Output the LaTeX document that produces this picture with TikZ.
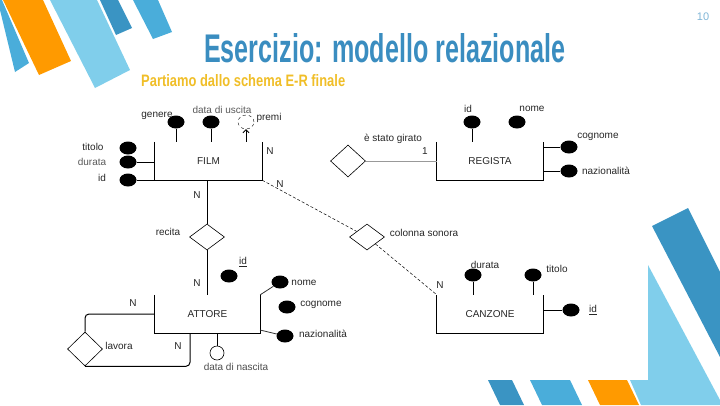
\documentclass[tikz,border=0pt]{standalone}
\usepackage{fontspec}
\setmainfont{Liberation Sans}
\usetikzlibrary{shapes.geometric,arrows.meta}
\definecolor{orng}{HTML}{FF9A00}
\definecolor{lblue}{HTML}{80CEEB}
\definecolor{mblue}{HTML}{4AADDA}
\definecolor{dblue}{HTML}{3A94C3}
\definecolor{ttl}{HTML}{3A8DC0}
\definecolor{subt}{HTML}{F0BE28}
\definecolor{pgn}{HTML}{7FB5D6}
\begin{document}
\begin{tikzpicture}[x=1pt,y=-1pt,
  ent/.style={minimum width=#1, minimum height=38pt, inner sep=0pt, font=\fontsize{10}{12}\selectfont, text=black!85},
  attr/.style={ellipse, fill=black, minimum width=17pt, minimum height=13pt, inner sep=0pt},
  rel/.style={diamond, draw, minimum width=35pt, minimum height=#1, inner sep=0pt, line width=0.6pt},
  lbl/.style={font=\fontsize{10}{12}\selectfont, inner sep=0pt, text=black!85},
  conn/.style={line width=1pt}]
\useasboundingbox (0,0) rectangle (720,405);
% decorations top-left
\fill[mblue] (0,10) -- (15,72) -- (29,63) -- (2,0) -- (0,0) -- cycle;
\fill[orng] (3,0) -- (39,75) -- (71,61) -- (43,0) -- cycle;
\fill[lblue] (50,0) -- (95,88) -- (130,70) -- (97,0) -- cycle;
\fill[dblue] (100,0) -- (116,35) -- (132,28) -- (118,0) -- cycle;
\fill[mblue] (133,0) -- (153,39) -- (172,32) -- (158,0) -- cycle;
% decorations bottom-right
\fill[dblue] (652,226) -- (688,208) -- (720,272) -- (720,357) -- cycle;
\fill[lblue] (648,265) -- (720,400) -- (720,405) -- (641,405) -- (630,380) -- (648,380) -- cycle;
\fill[orng] (588,380) -- (627,380) -- (639,405) -- (600,405) -- cycle;
\fill[mblue] (530,380) -- (570,380) -- (582,405) -- (542,405) -- cycle;
\fill[dblue] (488,380) -- (512,380) -- (524,405) -- (500,405) -- cycle;
% texts of the slide
\node[text=pgn, font=\fontsize{11}{13}\selectfont, inner sep=0pt] (pg) at (703,17) {10};
\node[anchor=base west, inner sep=0pt, text=ttl] (title) at (204,62.5)
  {\resizebox{361pt}{29pt}{\bfseries Esercizio: modello relazionale}};
\node[anchor=base west, inner sep=0pt, text=subt] (sub) at (141,86)
  {\resizebox{204pt}{12pt}{\bfseries Partiamo dallo schema E-R finale}};
% entities
\node[ent=107pt] (film) at (208.5,161) {FILM};
\node[ent=106pt] (regista) at (490,161) {REGISTA};
\node[ent=105pt] (attore) at (207.5,314) {ATTORE};
\node[ent=106pt] (canzone) at (490,314) {CANZONE};
\foreach \e in {film,regista,attore,canzone}
  \draw[conn] (\e.north west) -- (\e.south west) -- (\e.south east) -- (\e.north east);
% FILM attributes
\node[attr] (fgen) at (176,122) {};
\node[attr] (fdat) at (211,122) {};
\node[ellipse, draw, dashed, minimum width=16pt, minimum height=14pt, inner sep=0pt] (fpre) at (246,122) {};
\node[attr] (ftit) at (128,148) {};
\node[attr] (fdur) at (128,162) {};
\node[attr] (fid) at (128,180) {};
\draw[conn] (fgen) -- (fgen |- film.north);
\draw[conn] (fdat) -- (fdat |- film.north);
\draw[line width=0.8pt, -{Straight Barb[length=3pt]}] (fpre |- film.north) -- (fpre.south);
\draw[conn] (fdur) -- (fdur -| film.west);
\draw[conn] (fid) -- (fid -| film.west);
\node[lbl] (lgen) at (157,116) {genere};
\node[lbl, text=black!65] (ldat) at (222,110) {data di uscita};
\node[lbl] (lpre) at (269,118) {premi};
\node[lbl] (ltit) at (93,147) {titolo};
\node[lbl, text=black!65] (ldur) at (92,162) {durata};
\node[lbl] (lfid) at (102,178) {id};
\node[lbl] (n1) at (270,151) {N};
\node[lbl] (n2) at (280,184) {N};
\node[lbl] (n3) at (197,195) {N};
% è stato girato
\node[rel=32pt] (girato) at (348,161) {};
\draw[black!40, line width=0.8pt] (girato.east) -- (regista.west);
\node[lbl] (lgir) at (393,139) {è stato girato};
\node[lbl] (one) at (425,151) {1};
% REGISTA attributes
\node[attr] (rid) at (472,122) {};
\node[attr] (rnom) at (517,122) {};
\node[attr] (rcog) at (569,147) {};
\node[attr] (rnaz) at (569,171) {};
\draw[conn] (rid) -- (rid |- regista.north);
\draw[conn] (rcog) -- (rcog -| regista.east);
\draw[conn] (rnaz) -- (rnaz -| regista.east);
\node[lbl] (lrid) at (468,109) {id};
\node[lbl] (lrnom) at (532,109) {nome};
\node[lbl] (lrcog) at (598,137) {cognome};
\node[lbl] (lrnaz) at (606,171) {nazionalità};
% recita
\node[rel=26pt] (recita) at (207,237) {};
\draw[conn] (recita.north |- film.south) -- (recita.north);
\draw[conn] (recita.south) -- (recita.south |- attore.north);
\node[lbl] (lrec) at (168,232) {recita};
\node[lbl] (n4) at (197,283) {N};
% ATTORE attributes
\node[attr] (aid) at (229,276) {};
\node[attr] (anom) at (280,282) {};
\node[attr] (acog) at (287,307) {};
\node[attr] (anaz) at (285,336) {};
\node[circle, draw, line width=0.6pt, minimum size=14pt, inner sep=0pt] (adat) at (217,353) {};
\coordinate (anzc) at (260,330);
\coordinate (adtc) at (217,333);
\draw[line width=0.8pt, black!80] (attore.north east) -- (anom);
\draw[line width=0.8pt, black!80] (anzc) -- (anaz);
\draw[conn] (adtc) -- (adat.north);
\node[lbl] (laid) at (243,262) {\underline{id}};
\node[lbl] (lanom) at (304,283) {nome};
\node[lbl] (lacog) at (321,305) {cognome};
\node[lbl] (lanaz) at (323,334) {nazionalità};
\node[lbl, text=black!70] (ladat) at (236,367) {data di nascita};
% lavora
\node[rel=34pt] (lavora) at (85,349) {};
\coordinate (alav) at (190,333);
\draw[conn, rounded corners=4pt] (attore.west) -| (lavora.north);
\draw[conn, rounded corners=4pt] (lavora.south) -| (alav);
\node[lbl] (llav) at (119,346) {lavora};
\node[lbl] (n5) at (133,303) {N};
\node[lbl] (n6) at (178,346) {N};
% colonna sonora
\node[rel=26pt] (colonna) at (367,237) {};
\draw[densely dashed, line width=0.5pt] (film.south east) -- (colonna);
\draw[densely dashed, line width=0.5pt] (colonna) -- (canzone.north west);
\node[lbl] (lcol) at (424,233) {colonna sonora};
\node[lbl] (n7) at (440,285) {N};
% CANZONE attributes
\node[attr] (cdur) at (473,275) {};
\node[attr] (ctit) at (533,275) {};
\node[attr] (cid) at (571,310) {};
\draw[conn] (cdur) -- (cdur |- canzone.north);
\draw[conn] (ctit) -- (ctit |- canzone.north);
\draw[conn] (cid) -- (cid -| canzone.east);
\node[lbl] (lcdur) at (485,265) {durata};
\node[lbl] (lctit) at (557,269) {titolo};
\node[lbl] (lcid) at (593,310) {\underline{id}};
\end{tikzpicture}
\end{document}
